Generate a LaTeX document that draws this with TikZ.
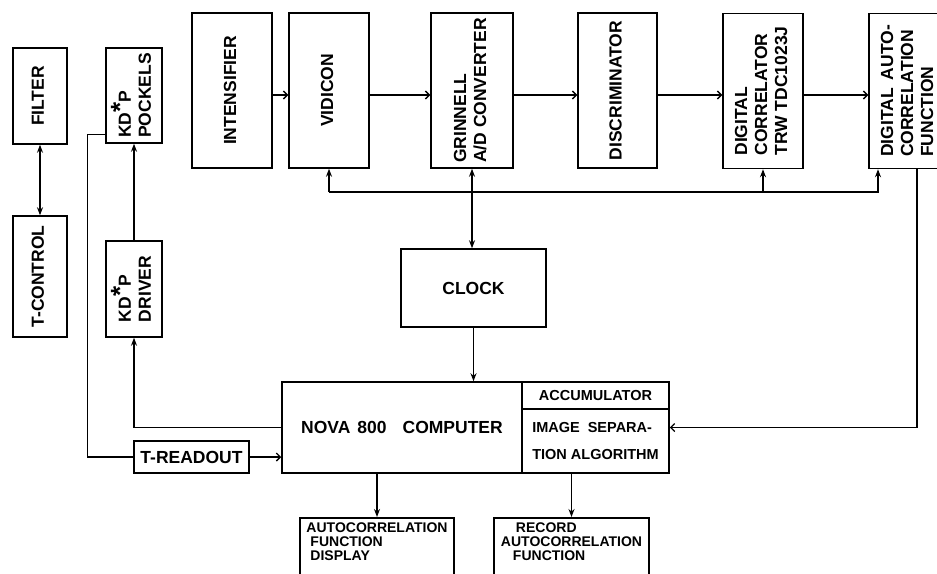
\documentclass[tikz,border=0pt]{standalone}
\usepackage{fontspec}
\setmainfont{Liberation Sans}
\usepackage{graphicx}
\usetikzlibrary{arrows.meta}
\newcommand{\vtext}[1]{\rotatebox{90}{\begin{tabular}{@{}l@{}}#1\end{tabular}}}
\newcommand{\KDP}{KD\raisebox{0.12em}{\fontsize{26}{26}\selectfont *}P}

\begin{document}
\begin{tikzpicture}[
  x=1pt, y=-1pt,
  box/.style={draw, line width=1.5pt, inner sep=3pt, font=\bfseries\fontsize{17.5}{20}\selectfont},
  tallbox/.style={box, minimum width=80pt, minimum height=155pt},
  lowbox/.style={box, font=\bfseries\fontsize{14}{14}\selectfont, align=left},
  arrow/.style={line width=1.4pt, -{Stealth[length=8pt,width=6pt]}},
  barb/.style={line width=1.4pt, -{Straight Barb[length=4pt,width=8pt]}},
  dblarrow/.style={line width=1.4pt, {Stealth[length=8pt,width=6pt]}-{Stealth[length=8pt,width=6pt]}},
  wire/.style={line width=1.4pt}
]
\useasboundingbox (0,0) rectangle (937,573);
\clip (0,0) rectangle (937,573);

% Left column
\node[box, minimum width=54pt, minimum height=96pt] (filter) at (40,96) {\vtext{FILTER}};
\node[box, minimum width=54pt, minimum height=121pt] (tcontrol) at (40,276.5) {\vtext{T-CONTROL}};
\node[box, minimum width=56pt, minimum height=95pt] (pockels) at (134,95.5) {\vtext{\KDP\\POCKELS}};
\node[box, minimum width=56pt, minimum height=96pt] (driver) at (134,289) {\vtext{\KDP\\DRIVER}};

% Top row
\node[tallbox] (intens) at (232,90.5) {\vtext{INTENSIFIER}};
\node[tallbox] (vidicon) at (329,90.5) {\vtext{VIDICON}};
\node[tallbox, minimum width=82pt] (grinnell) at (472,90.5) {\vtext{GRINNELL\\A/D CONVERTER}};
\node[tallbox, minimum width=79pt] (discrim) at (617.5,90.5) {\vtext{DISCRIMINATOR}};
\node[tallbox] (correl) at (763,91) {\vtext{DIGITAL\\CORRELATOR\\TRW TDC1023J}};
\node[tallbox] (autocorr) at (909,91) {\vtext{DIGITAL\hspace{8pt}AUTO-\\CORRELATION\\FUNCTION}};

% Clock and computer
\node[box, minimum width=145pt, minimum height=78pt] (clock) at (473.5,288) {CLOCK};
\node[box, minimum width=240pt, minimum height=91pt] (computer) at (402,427.5) {NOVA\hspace{7pt}800\hspace{16pt}COMPUTER};
\node[lowbox, font=\bfseries\fontsize{14.5}{14}\selectfont, minimum width=147pt, minimum height=27pt] (accum) at (595.5,395.5) {ACCUMULATOR};
\node[lowbox, font=\bfseries\fontsize{14.5}{14}\selectfont, minimum width=147pt, minimum height=64pt] (imgsep) at (595.5,441) {IMAGE\hspace{8pt}SEPARA-\\[13pt]TION ALGORITHM};
\node[box, minimum width=115pt, minimum height=32pt] (treadout) at (191.5,457) {T-READOUT};

% Outputs
\node[lowbox, anchor=north, minimum width=154pt, inner ysep=5pt] (display) at (377,517) {AUTOCORRELATION\\\hspace*{4pt}FUNCTION\\\hspace*{4pt}DISPLAY\\~};
\node[lowbox, anchor=north, minimum width=155pt, inner ysep=5pt] (record) at (571.5,517) {\hspace*{15pt}RECORD\\AUTOCORRELATION\\\hspace*{12pt}FUNCTION\\~};

\coordinate (sig) at (0,95);
\coordinate (bus) at (0,192);
\coordinate (busend) at (878,192);
\coordinate (outx) at (917,0);

% Arrows
\draw[dblarrow] (filter) -- (tcontrol);
\draw[arrow] (driver) -- (pockels);
\foreach \a/\b in {intens/vidicon, vidicon/grinnell, grinnell/discrim, discrim/correl, correl/autocorr}
  \draw[barb] (\a.east |- sig) -- (\b.west |- sig);
\draw[arrow] (vidicon |- bus) -- (busend) -- (busend |- autocorr.south);
\draw[arrow] (vidicon |- bus) -- (vidicon);
\draw[arrow] (correl |- bus) -- (correl);
\draw[dblarrow] (grinnell.south) -- (grinnell.south |- clock.north);
\draw[arrow] (clock.south) -- (clock.south |- computer.north);
\draw[arrow] (computer.west) -| (driver.south);
\draw[wire] ([yshift=9pt]pockels.south west) -- ++(-18,0) |- (treadout.west);
\draw[barb] (treadout.east) -- (treadout.east -| computer.west);
\draw[barb] (outx |- autocorr.south) |- (imgsep.east |- computer.east);
\draw[arrow] (display.north |- computer.south) -- (display.north);
\draw[arrow] (record.north |- imgsep.south) -- (record.north);
\end{tikzpicture}
\end{document}
